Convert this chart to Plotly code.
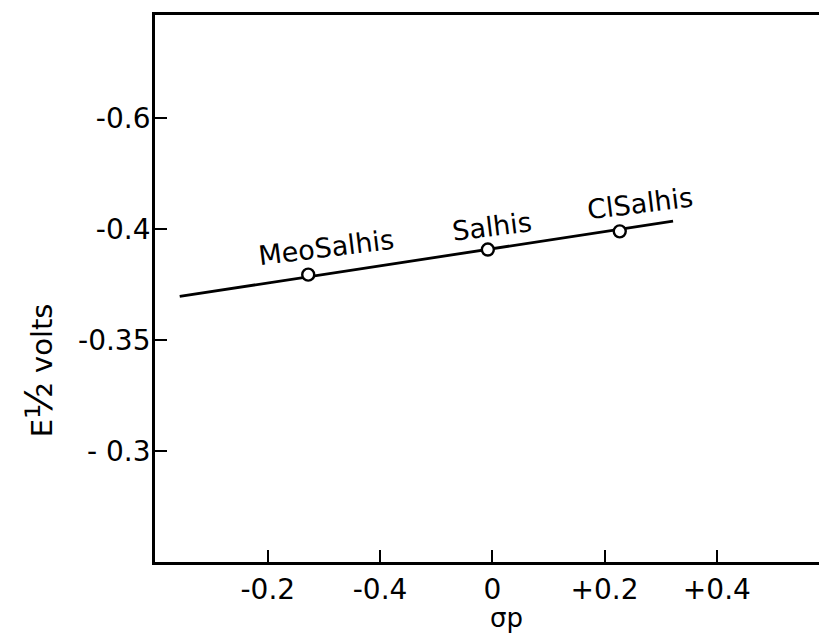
import plotly.graph_objects as go

# Data
compounds = ["MeoSalhis", "Salhis", "ClSalhis"]
sigma_p = [-0.328, -0.008, 0.227]
e_half = [-0.3795, -0.3908, -0.3990]

# fitted straight line (end points)
fit_x = [-0.557, 0.322]
fit_y = [-0.3697, -0.4036]

x_tickvals = [-0.4, -0.2, 0.0, 0.2, 0.4]
x_ticktext = ["-0.2", "-0.4", "0", "+0.2", "+0.4"]
y_tickvals = [-0.45, -0.40, -0.35, -0.30]
y_ticktext = ["-0.6", "-0.4", "-0.35", "- 0.3"]

FONT = "DejaVu Sans, Liberation Sans, sans-serif"

fig = go.Figure()
fig.add_trace(go.Scatter(x=fit_x, y=fit_y, mode="lines",
                         line=dict(color="black", width=2.8),
                         hoverinfo="skip", showlegend=False))
fig.add_trace(go.Scatter(x=sigma_p, y=e_half, mode="markers",
                         marker=dict(symbol="circle", size=12, color="white",
                                     line=dict(color="black", width=2.4)),
                         showlegend=False))

shifts = {"MeoSalhis": (18, 27), "Salhis": (4, 23), "ClSalhis": (20, 28)}
for name, xv, yv in zip(compounds, sigma_p, e_half):
    dx, dy = shifts[name]
    fig.add_annotation(x=xv, y=yv, text=name, showarrow=False,
                       xshift=dx, yshift=dy, textangle=-7,
                       xanchor="center", yanchor="middle",
                       font=dict(family=FONT, size=27, color="black"))

fig.add_annotation(xref="paper", yref="paper", x=-0.175, y=0.35,
                   xanchor="center", yanchor="middle",
                   text="E<span style='font-size:38px'>½</span> volts", textangle=-90,
                   showarrow=False, font=dict(family=FONT, size=29, color="black"))
fig.add_annotation(xref="paper", yref="paper", x=0.53, y=-0.103,
                   xanchor="center", yanchor="middle",
                   text="σp", showarrow=False,
                   font=dict(family=FONT, size=26, color="black"))

fig.update_layout(
    width=819, height=634,
    margin=dict(l=155, r=0, t=15, b=72),
    paper_bgcolor="white", plot_bgcolor="white",
    font=dict(family=FONT, size=28, color="black"),
    xaxis=dict(range=[-0.601, 0.582], tickvals=x_tickvals, ticktext=x_ticktext,
               ticks="inside", ticklen=12, tickwidth=2, tickcolor="black",
               showline=True, linecolor="black", linewidth=2.8, mirror=True,
               showgrid=False, zeroline=False,
               tickfont=dict(family=FONT, size=28, color="black")),
    yaxis=dict(range=[-0.25, -0.4965], tickvals=y_tickvals, ticktext=y_ticktext,
               ticks="inside", ticklen=12, tickwidth=2, tickcolor="black",
               showline=True, linecolor="black", linewidth=2.8, mirror=False,
               showgrid=False, zeroline=False, ticklabelstandoff=-4,
               tickfont=dict(family=FONT, size=28, color="black")),
)

fig.write_html("out.html")
